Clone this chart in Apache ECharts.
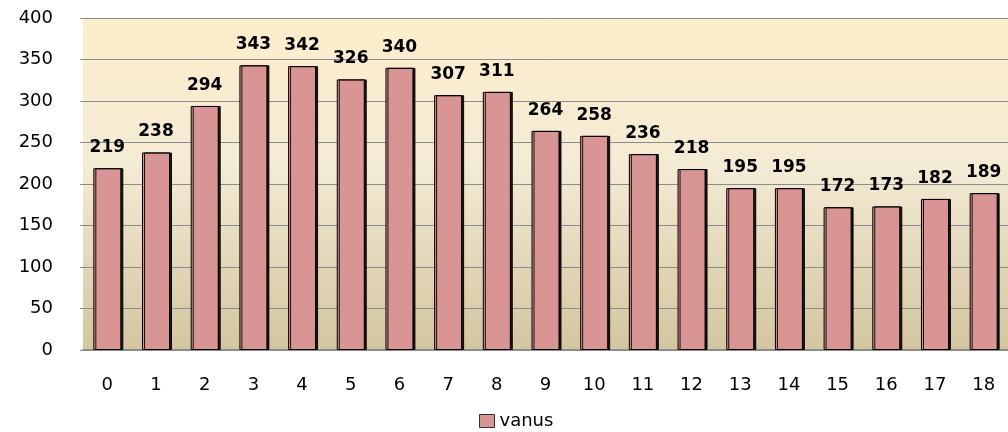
<!DOCTYPE html>
<html>
<head>
<meta charset="utf-8">
<script src="https://cdn.jsdelivr.net/npm/echarts@6/dist/echarts.min.js"></script>
<style>html,body{margin:0;padding:0;background:#fff}#c{width:1008px;height:432px}</style>
</head>
<body>
<div id="c"></div>
<script>
const categories = ['0','1','2','3','4','5','6','7','8','9','10','11','12','13','14','15','16','17','18'];
const vanus = [219,238,294,343,342,326,340,307,311,264,258,236,218,195,195,172,173,182,189];
const yTicks = {min:0, max:400, interval:50};

const chart = echarts.init(document.getElementById('c'), null, {renderer:'canvas'});
chart.setOption({
  animation:false,
  backgroundColor:'#ffffff',
  textStyle:{fontFamily:'DejaVu Sans'},
  grid:{left:83, right:-2, top:18, bottom:82, show:true, borderWidth:0,
    backgroundColor:{type:'linear',x:0,y:0,x2:0,y2:1,colorStops:[
      {offset:0,color:'#fdeecb'},{offset:0.45,color:'#f4ebd5'},{offset:1,color:'#d3c59f'}]}},
  legend:{top:412, left:479, padding:0, icon:'rect', itemWidth:15, itemHeight:13, itemGap:8,
    textStyle:{fontSize:18, color:'#000', fontFamily:'DejaVu Sans'},
    data:[{name:'vanus', itemStyle:{color:'#d99594', borderColor:'#333', borderWidth:1}}]},
  xAxis:{type:'category', data:categories,
    axisLine:{show:true, lineStyle:{color:'#8c8c8c', width:2}},
    axisTick:{show:false},
    axisLabel:{fontSize:18, color:'#000', margin:26}},
  yAxis:{type:'value', min:yTicks.min, max:yTicks.max, interval:yTicks.interval,
    axisLine:{show:false},
    axisTick:{show:true, length:3, lineStyle:{color:'#8c8c8c'}},
    splitLine:{lineStyle:{color:'#8c8c8c', width:1}},
    axisLabel:{fontSize:18, color:'#000', margin:30}},
  series:[{name:'vanus', type:'bar', data:vanus, barWidth:28,
    itemStyle:{color:'#d99594', borderColor:'#000', borderWidth:1,
      shadowColor:'rgba(0,0,0,0.9)', shadowOffsetX:2, shadowOffsetY:0, shadowBlur:0},
    label:{show:true, position:'top', distance:12, fontSize:17, fontWeight:'bold', color:'#000', fontFamily:'DejaVu Sans'}}]
});
</script>
</body>
</html>
